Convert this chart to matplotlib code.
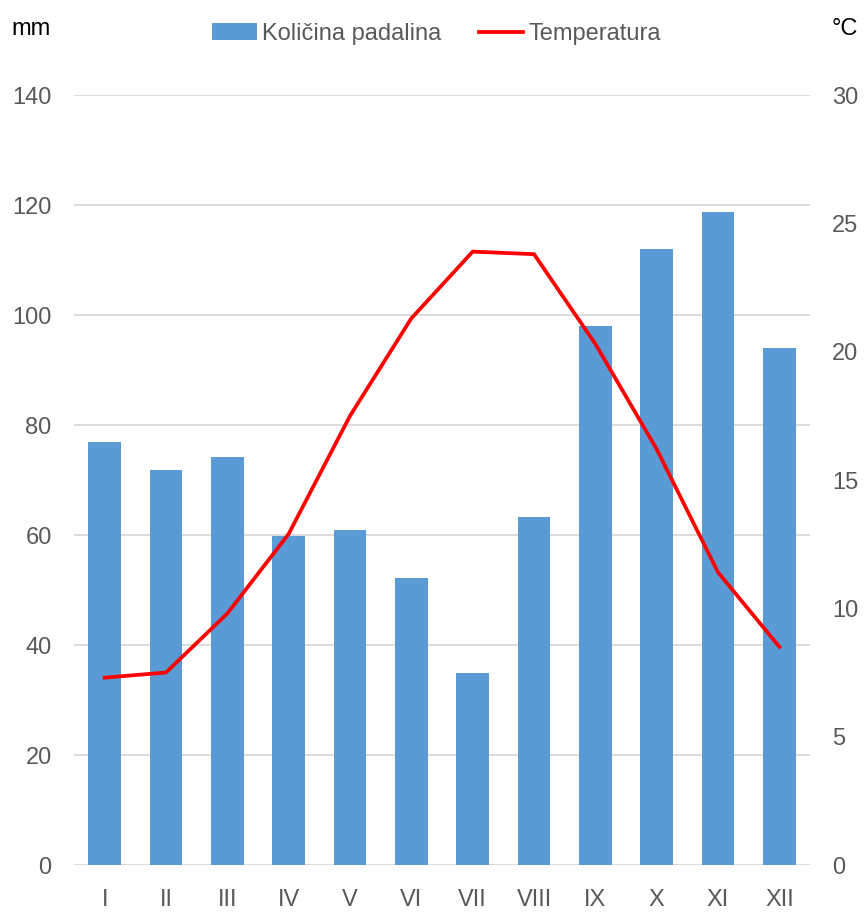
import numpy as np
import matplotlib.pyplot as plt

plt.rcParams['font.family'] = ['Liberation Sans', 'DejaVu Sans']

# Monthly data
months = ['I', 'II', 'III', 'IV', 'V', 'VI', 'VII', 'VIII', 'IX', 'X', 'XI', 'XII']
precip = [77, 71.8, 74.2, 59.8, 60.9, 52.2, 34.9, 63.3, 98, 112, 118.7, 94]
temp = [7.3, 7.5, 9.8, 12.9, 17.5, 21.3, 23.9, 23.8, 20.3, 16.2, 11.4, 8.5]

grey = '#595959'
fig = plt.figure(figsize=(8.64, 9.14), dpi=100)
ax = fig.add_axes([0.0856, 0.0536, 0.852, 0.8424])
ax2 = ax.twinx()

x = np.arange(len(months))
bars = ax.bar(x, precip, width=0.53, color='#5b9bd5', label='Količina padalina', zorder=2)
line, = ax2.plot(x, temp, color='#ff0000', lw=2.7, label='Temperatura', zorder=3)

ax.set_xlim(-0.5, 11.5)
ax.set_ylim(0, 140)
ax.set_yticks(range(0, 141, 20))
ax2.set_ylim(0, 30)
ax2.set_yticks(range(0, 31, 5))
ax.set_xticks(x)
ax.set_xticklabels(months)

ax.grid(axis='y', color='#d9d9d9', lw=1.3, zorder=0)
ax.set_axisbelow(True)
for a in (ax, ax2):
    for s in a.spines.values():
        s.set_visible(False)
    a.tick_params(length=0, colors=grey, labelsize=17)
ax.tick_params(axis='y', pad=16)
ax2.tick_params(axis='y', pad=16)
ax.tick_params(axis='x', pad=17)

fig.text(0.013, 0.968, 'mm', fontsize=17, color='black', va='center')
fig.text(0.962, 0.968, '°C', fontsize=17, color='black', va='center')

fig.legend([bars, line], ['Količina padalina', 'Temperatura'], loc='center',
           bbox_to_anchor=(0.505, 0.963), ncol=2, frameon=False, fontsize=17,
           labelcolor=grey, handlelength=1.9, handletextpad=0.2, columnspacing=1.6)

plt.savefig('out.png', dpi=100)
